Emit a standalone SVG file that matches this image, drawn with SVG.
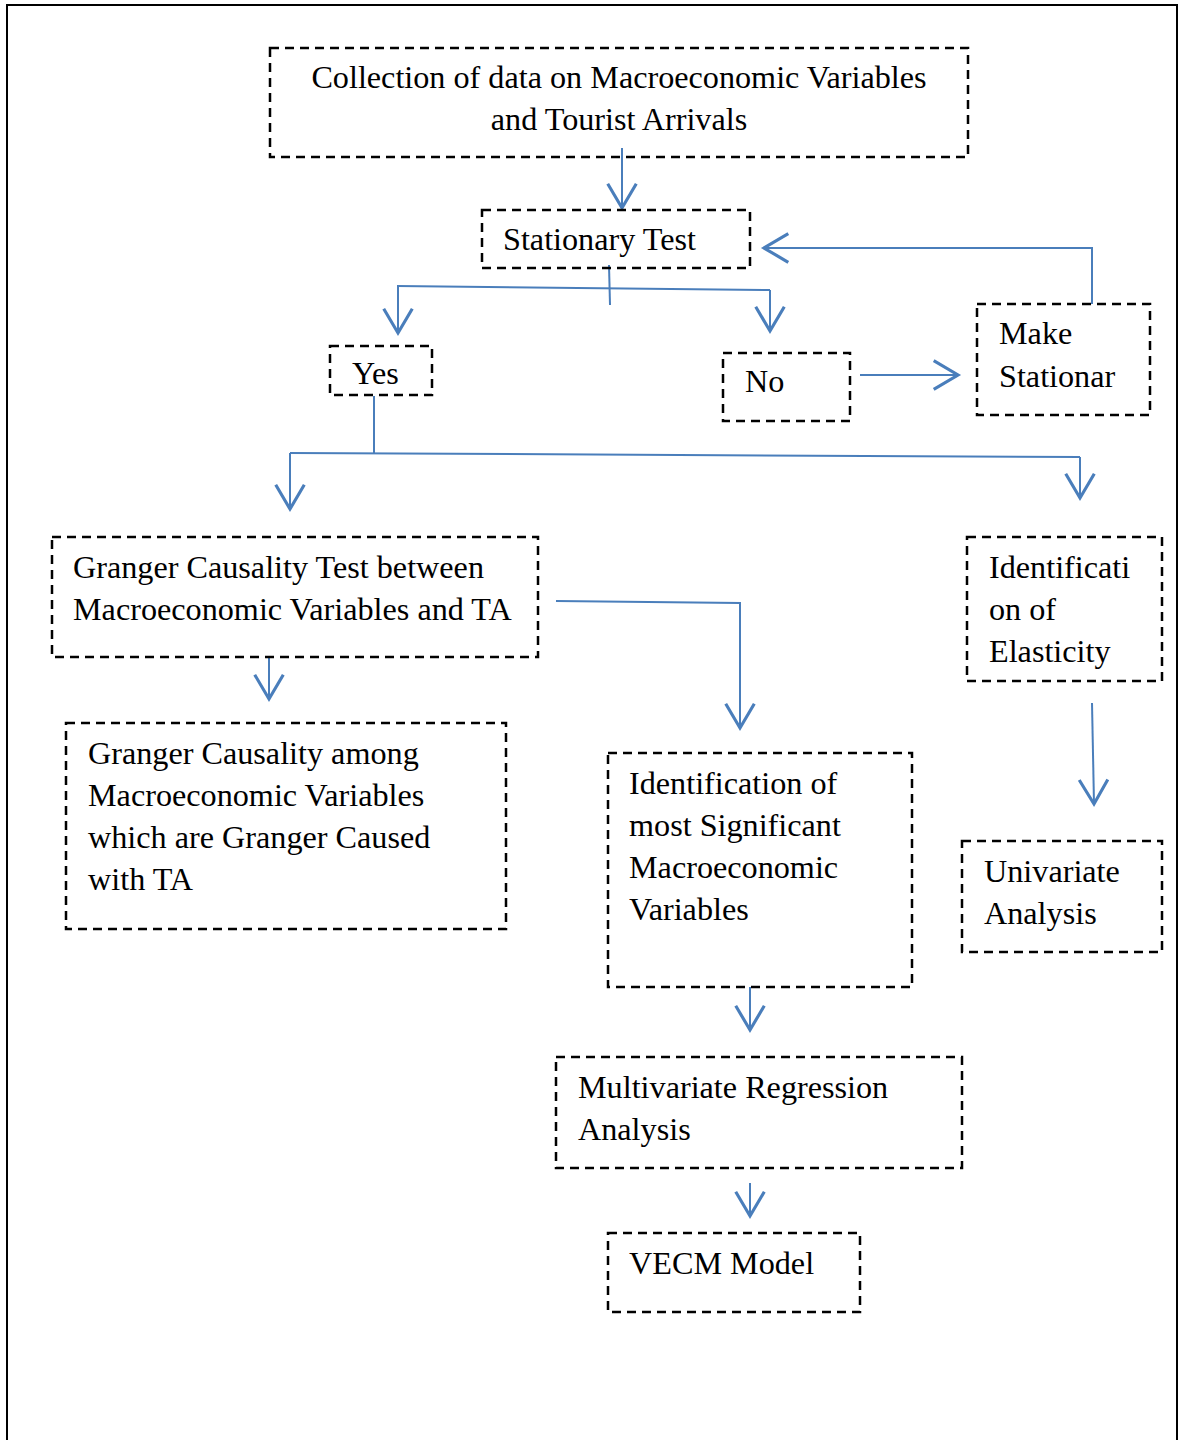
<svg xmlns="http://www.w3.org/2000/svg" width="1178" height="1440" viewBox="0 0 1178 1440">
<defs>
<style>
.box{fill:none;stroke:#000;stroke-width:2.5;stroke-dasharray:9 6}
.t{font-family:"Liberation Serif","Times New Roman",serif;font-size:32.2px;fill:#000}
.c{fill:none;stroke:#4a7ebb;stroke-width:2}
</style>
<marker id="ah" markerUnits="userSpaceOnUse" markerWidth="40" markerHeight="40" viewBox="-20 -14 24 28" refX="0" refY="0" orient="auto">
<path d="M-17,-10 L0,0 L-17,10" fill="none" stroke="#4a7ebb" stroke-width="2.2"/>
</marker>
</defs>
<rect x="0" y="0" width="1178" height="1440" fill="#fff"/>
<path d="M7,1440 V5 H1177 V1440" fill="none" stroke="#000" stroke-width="2"/>
<g id="connectors">
<path class="c" d="M622,148 V208" marker-end="url(#ah)"/>
<path class="c" d="M609,265 L610,305"/>
<path class="c" d="M397,286 L770,290"/>
<path class="c" d="M398,286 V333" marker-end="url(#ah)"/>
<path class="c" d="M770,290 V331" marker-end="url(#ah)"/>
<path class="c" d="M1092,304 V248 H764" marker-end="url(#ah)"/>
<path class="c" d="M860,375 H958" marker-end="url(#ah)"/>
<path class="c" d="M374,396 V453"/>
<path class="c" d="M290,453 L1080,457"/>
<path class="c" d="M290,453 V509" marker-end="url(#ah)"/>
<path class="c" d="M1080,457 V498" marker-end="url(#ah)"/>
<path class="c" d="M556,601 L740,603 V728" marker-end="url(#ah)"/>
<path class="c" d="M269,657 V699" marker-end="url(#ah)"/>
<path class="c" d="M1092,703 L1094,804" marker-end="url(#ah)"/>
<path class="c" d="M750,987 V1030" marker-end="url(#ah)"/>
<path class="c" d="M750,1183 V1216" marker-end="url(#ah)"/>
</g>
<g id="collection">
<rect class="box" x="270" y="48" width="698" height="109"/>
<text class="t" x="619" y="88" text-anchor="middle">Collection of data on Macroeconomic Variables</text>
<text class="t" x="619" y="130" text-anchor="middle">and Tourist Arrivals</text>
</g>
<g id="stationary">
<rect class="box" x="482" y="210" width="268" height="58"/>
<text class="t" x="503" y="250">Stationary Test</text>
</g>
<g id="yes">
<rect class="box" x="330" y="346" width="102" height="49"/>
<text class="t" x="352" y="384">Yes</text>
</g>
<g id="no">
<rect class="box" x="723" y="353" width="127" height="68"/>
<text class="t" x="745" y="392">No</text>
</g>
<g id="make-stationary">
<rect class="box" x="977" y="304" width="173" height="111"/>
<text class="t" x="999" y="344">Make</text>
<text class="t" x="999" y="387">Stationar</text>
</g>
<g id="granger-test">
<rect class="box" x="52" y="537" width="486" height="120"/>
<text class="t" x="73" y="578">Granger Causality Test between</text>
<text class="t" x="73" y="620">Macroeconomic Variables and TA</text>
</g>
<g id="elasticity">
<rect class="box" x="967" y="537" width="195" height="144"/>
<text class="t" x="989" y="578">Identificati</text>
<text class="t" x="989" y="620">on of</text>
<text class="t" x="989" y="662">Elasticity</text>
</g>
<g id="granger-among">
<rect class="box" x="66" y="723" width="440" height="206"/>
<text class="t" x="88" y="764">Granger Causality among</text>
<text class="t" x="88" y="806">Macroeconomic Variables</text>
<text class="t" x="88" y="848">which are Granger Caused</text>
<text class="t" x="88" y="890">with TA</text>
</g>
<g id="significant">
<rect class="box" x="608" y="753" width="304" height="234"/>
<text class="t" x="629" y="794">Identification of</text>
<text class="t" x="629" y="836">most Significant</text>
<text class="t" x="629" y="878">Macroeconomic</text>
<text class="t" x="629" y="920">Variables</text>
</g>
<g id="univariate">
<rect class="box" x="962" y="841" width="200" height="111"/>
<text class="t" x="984" y="882">Univariate</text>
<text class="t" x="984" y="924">Analysis</text>
</g>
<g id="multivariate">
<rect class="box" x="556" y="1057" width="406" height="111"/>
<text class="t" x="578" y="1098">Multivariate Regression</text>
<text class="t" x="578" y="1140">Analysis</text>
</g>
<g id="vecm">
<rect class="box" x="608" y="1233" width="252" height="79"/>
<text class="t" x="629" y="1274">VECM Model</text>
</g>
</svg>
